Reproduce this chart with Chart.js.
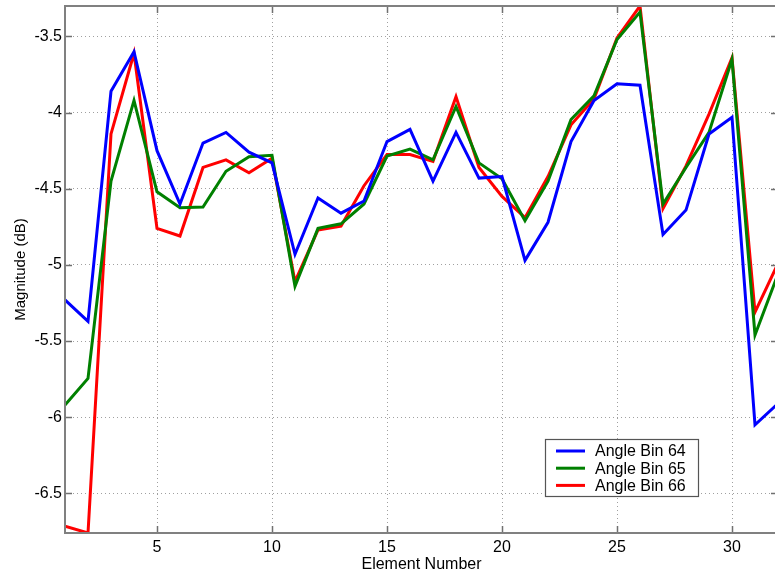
<!DOCTYPE html>
<html>
<head>
<meta charset="utf-8">
<script src="https://cdn.jsdelivr.net/npm/chart.js@4/dist/chart.umd.min.js"></script>
<style>
  html, body { margin: 0; padding: 0; background: #fff; overflow: hidden; }
  #wrap { position: relative; width: 790px; height: 575px; }
</style>
</head>
<body>
<div id="wrap"><canvas id="c"></canvas></div>
<script>
const elements = Array.from({length: 32}, (_, i) => i + 1);
const seriesNames = ['Angle Bin 64', 'Angle Bin 65', 'Angle Bin 66'];
const bin64 = [-5.23, -5.37, -3.86, -3.60, -4.25, -4.60, -4.20, -4.13, -4.26, -4.33, -4.93, -4.56, -4.66, -4.58, -4.19, -4.11, -4.45, -4.13, -4.43, -4.42, -4.97, -4.72, -4.19, -3.92, -3.81, -3.82, -4.80, -4.64, -4.14, -4.03, -6.05, -5.91];
const bin65 = [-5.92, -5.745, -4.45, -3.92, -4.52, -4.625, -4.62, -4.385, -4.29, -4.28, -5.14, -4.76, -4.73, -4.60, -4.285, -4.24, -4.31, -3.96, -4.33, -4.435, -4.71, -4.45, -4.045, -3.89, -3.52, -3.34, -4.60, -4.36, -4.13, -3.65, -5.46, -5.06];
const bin66 = [-6.715, -6.76, -4.14, -3.61, -4.76, -4.81, -4.36, -4.31, -4.395, -4.30, -5.11, -4.77, -4.745, -4.48, -4.275, -4.275, -4.32, -3.895, -4.36, -4.55, -4.69, -4.42, -4.08, -3.91, -3.51, -3.30, -4.63, -4.35, -4.01, -3.64, -5.31, -4.99];
const xTicks = [5, 10, 15, 20, 25, 30];
const yTicks = [-6.5, -6, -5.5, -5, -4.5, -4, -3.5];
const colors = ['#0000ff', '#008000', '#ff0000'];

const FONT = '"Liberation Sans", Arial, Helvetica, sans-serif';

const mk = (arr) => arr.map((v, i) => ({x: elements[i], y: v}));

const boxPlugin = {
  id: 'boxPlugin',
  afterDraw(chart) {
    const ctx = chart.ctx;
    const a = chart.chartArea;
    const xs = chart.scales.x, ys = chart.scales.y;
    ctx.save();
    ctx.strokeStyle = '#707070';
    ctx.lineWidth = 1.5;
    const tl = 7;
    ctx.beginPath();
    xTicks.forEach(v => {
      const px = Math.round(xs.getPixelForValue(v)) + 0.5;
      ctx.moveTo(px, a.bottom); ctx.lineTo(px, a.bottom - tl);
      ctx.moveTo(px, a.top); ctx.lineTo(px, a.top + tl);
    });
    yTicks.forEach(v => {
      const py = Math.round(ys.getPixelForValue(v)) + 0.5;
      ctx.moveTo(a.left, py); ctx.lineTo(a.left + tl, py);
      ctx.moveTo(a.right, py); ctx.lineTo(a.right - tl, py);
    });
    ctx.stroke();
    ctx.strokeStyle = '#808080';
    ctx.lineWidth = 2;
    ctx.strokeRect(a.left, a.top, a.right - a.left, a.bottom - a.top);

    const lx = 545, ly = 439, lw = 153, lh = 57;
    ctx.fillStyle = '#ffffff';
    ctx.fillRect(lx, ly, lw, lh);
    ctx.strokeStyle = '#555555';
    ctx.lineWidth = 1.2;
    ctx.strokeRect(lx + 0.5, ly + 0.5, lw, lh);
    ctx.font = '16px ' + FONT;
    ctx.textBaseline = 'middle';
    ctx.textAlign = 'left';
    chart.data.datasets.forEach((ds, i) => {
      const ry = 451 + i * 17.2;
      ctx.strokeStyle = ds.borderColor;
      ctx.lineWidth = 3;
      ctx.beginPath();
      ctx.moveTo(556, ry); ctx.lineTo(585, ry);
      ctx.stroke();
      ctx.fillStyle = '#000';
      ctx.fillText(ds.label, 595, ry + 1);
    });
    ctx.restore();
  }
};

const noPad = s => { s.paddingTop = 0; s.paddingBottom = 0; s.paddingLeft = 0; s.paddingRight = 0; };

new Chart(document.getElementById('c'), {
  type: 'line',
  data: {
    datasets: [
      {label: seriesNames[0], data: mk(bin64), borderColor: colors[0]},
      {label: seriesNames[1], data: mk(bin65), borderColor: colors[1]},
      {label: seriesNames[2], data: mk(bin66), borderColor: colors[2]}
    ].map(d => Object.assign(d, {borderWidth: 3, pointRadius: 0, fill: false, tension: 0, borderJoinStyle: 'miter'}))
  },
  options: {
    responsive: true,
    maintainAspectRatio: false,
    animation: false,
    events: [],
    layout: {padding: {left: 0, top: 6, right: 12, bottom: 0}},
    plugins: {legend: {display: false}, tooltip: {enabled: false}},
    scales: {
      x: {
        type: 'linear', min: 1, max: 32,
        afterBuildTicks: s => { s.ticks = xTicks.map(v => ({value: v})); },
        afterFit: s => { s.height = 42; noPad(s); },
        grid: {color: '#a0a0a0', lineWidth: 1, drawTicks: false},
        border: {display: false, dash: [1, 3]},
        ticks: {color: '#000', font: {family: FONT, size: 16}, padding: 5, maxRotation: 0, callback: v => String(v)},
        title: {display: true, text: 'Element Number', color: '#000', font: {family: FONT, size: 16}, padding: {top: 0, bottom: 1}}
      },
      y: {
        type: 'linear', min: -6.76, max: -3.30,
        afterBuildTicks: s => { s.ticks = yTicks.map(v => ({value: v})); },
        afterFit: s => { s.width = 65; noPad(s); },
        grid: {color: '#a0a0a0', lineWidth: 1, drawTicks: false},
        border: {display: false, dash: [1, 3]},
        ticks: {color: '#000', font: {family: FONT, size: 16}, padding: 3, callback: v => String(v)},
        title: {display: true, text: 'Magnitude (dB)', color: '#000', font: {family: FONT, size: 15}, padding: {top: 12, bottom: 0}}
      }
    }
  },
  plugins: [boxPlugin]
});
</script>
</body>
</html>
